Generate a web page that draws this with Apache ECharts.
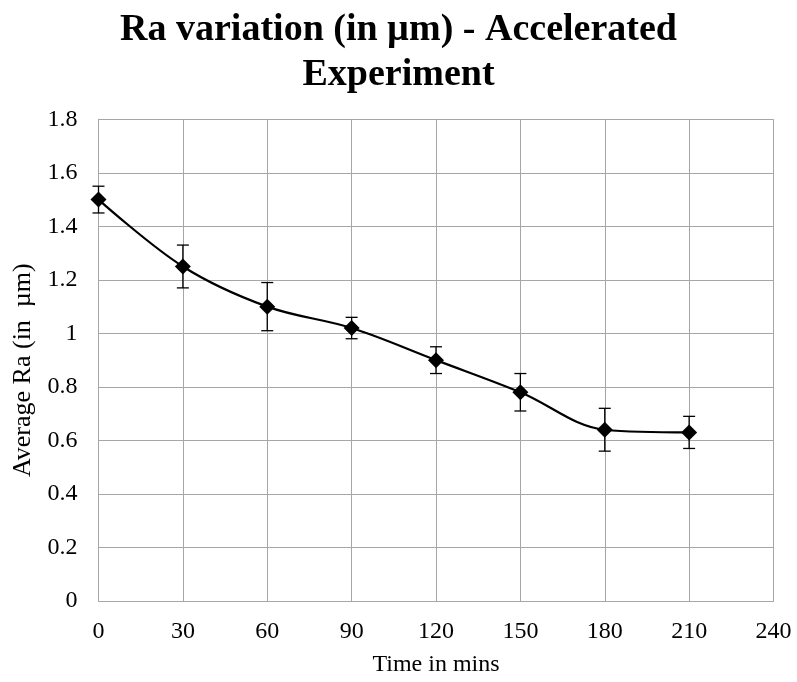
<!DOCTYPE html>
<html>
<head>
<meta charset="utf-8">
<script src="https://cdn.jsdelivr.net/npm/echarts@6/dist/echarts.min.js"></script>
<style>
  html, body { margin: 0; padding: 0; background: #fff; }
  #chart { width: 797px; height: 682px; }
</style>
</head>
<body>
<div id="chart"></div>
<script>
// Average surface roughness over time, with error bars
const timeMins = [0, 30, 60, 90, 120, 150, 180, 210];
const avgRa = [1.5, 1.25, 1.1, 1.02, 0.9, 0.78, 0.64, 0.63];
const errRa = [0.05, 0.08, 0.09, 0.04, 0.05, 0.07, 0.08, 0.06];

const serif = '"Liberation Serif", "Times New Roman", serif';
const gridColor = '#a6a6a6';

const chart = echarts.init(document.getElementById('chart'));

const lineData = timeMins.map((t, i) => [t, avgRa[i]]);
const errData = timeMins.map((t, i) => [t, avgRa[i] - errRa[i], avgRa[i] + errRa[i]]);

chart.setOption({
  animation: false,
  backgroundColor: '#fff',
  title: {
    text: 'Ra variation (in µm) - Accelerated\nExperiment',
    left: 'center',
    top: 3,
    textStyle: {
      fontFamily: serif,
      fontWeight: 'bold',
      fontSize: 38,
      lineHeight: 45,
      color: '#000'
    }
  },
  grid: {
    left: 98.5, right: 23.5, top: 119.3, bottom: 81,
    containLabel: false,
    outerBoundsMode: 'none'
  },
  xAxis: {
    type: 'value',
    min: 0, max: 240, interval: 30,
    name: 'Time in mins',
    nameLocation: 'middle',
    nameGap: 52,
    nameTextStyle: { fontFamily: serif, fontSize: 24, color: '#000' },
    axisLine: { show: true, lineStyle: { color: gridColor, width: 1 } },
    axisTick: { show: false },
    axisLabel: { fontFamily: serif, fontSize: 24, color: '#000', margin: 19 },
    splitLine: { show: true, lineStyle: { color: gridColor, width: 1 } }
  },
  yAxis: {
    type: 'value',
    min: 0, max: 1.8, interval: 0.2,
    name: 'Average Ra (in  µm)',
    nameLocation: 'middle',
    nameGap: 48,
    nameTextStyle: { fontFamily: serif, fontSize: 26, color: '#000', padding: [0, 20, 0, 0] },
    axisLine: { show: true, lineStyle: { color: gridColor, width: 1 } },
    axisTick: { show: false },
    axisLabel: {
      fontFamily: serif, fontSize: 24, color: '#000', margin: 21,
      formatter: v => String(Math.round(v * 10) / 10)
    },
    splitLine: { show: true, lineStyle: { color: gridColor, width: 1 } }
  },
  series: [
    {
      type: 'custom',
      data: errData,
      z: 3,
      renderItem: function (params, api) {
        const x = api.value(0);
        const lo = api.coord([x, api.value(1)]);
        const hi = api.coord([x, api.value(2)]);
        const half = 6;
        const style = { stroke: '#000', lineWidth: 1.3 };
        return {
          type: 'group',
          children: [
            { type: 'line', shape: { x1: lo[0], y1: lo[1], x2: hi[0], y2: hi[1] }, style },
            { type: 'line', shape: { x1: lo[0] - half, y1: lo[1], x2: lo[0] + half, y2: lo[1] }, style },
            { type: 'line', shape: { x1: hi[0] - half, y1: hi[1], x2: hi[0] + half, y2: hi[1] }, style }
          ]
        };
      }
    },
    {
      type: 'line',
      data: lineData,
      smooth: 0.35,
      z: 4,
      symbol: 'diamond',
      symbolSize: 16,
      itemStyle: { color: '#000' },
      lineStyle: { color: '#000', width: 2.2 }
    }
  ]
});
</script>
</body>
</html>
